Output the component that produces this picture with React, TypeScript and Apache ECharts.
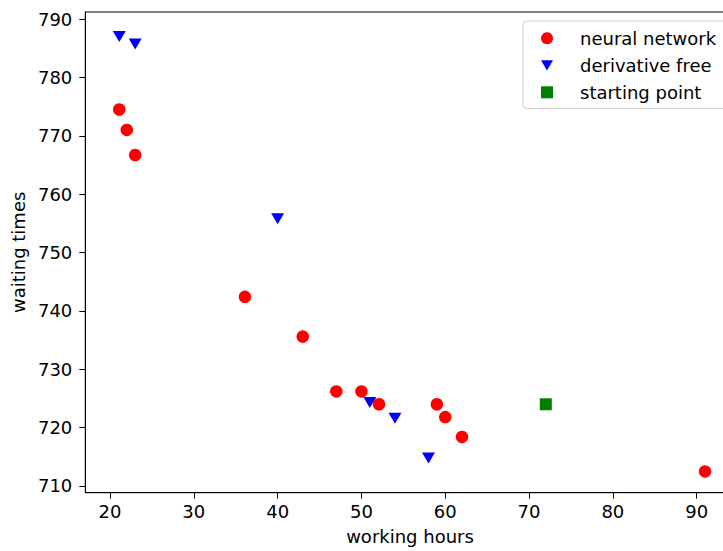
import React, { useEffect, useRef } from "react";
import * as echarts from "echarts";

const xTicks = [20, 30, 40, 50, 60, 70, 80, 90];
const yTicks = [710, 720, 730, 740, 750, 760, 770, 780, 790];

const neuralX = [21.1, 22, 23, 36.1, 43, 47, 50, 52.1, 59, 60, 62, 91];
const neuralY = [774.5, 771, 766.7, 742.4, 735.6, 726.2, 726.2, 724, 724, 721.8, 718.4, 712.5];

const derivX = [21.1, 23, 40, 51, 54, 58];
const derivY = [787, 785.7, 755.8, 724.3, 721.6, 714.8];

const startX = [72];
const startY = [724];

const seriesNames = ["neural network", "derivative free", "starting point"];

const FONT = "DejaVu Sans";
const FS = 18;
const TRI = "path://M0,0L20,0L10,17Z";

const zip = (xs: number[], ys: number[]) => xs.map((x, i) => [x, ys[i]]);

export default function App() {
  const ref = useRef<HTMLDivElement>(null);
  useEffect(() => {
    if (!ref.current) return;
    const chart = echarts.init(ref.current, undefined, { renderer: "svg" });
    const axisCommon = {
      type: "value" as const,
      nameLocation: "middle" as const,
      nameTextStyle: { fontFamily: FONT, fontSize: FS, color: "#000" },
      axisLine: { show: true, lineStyle: { color: "#000", width: 1 } },
      splitLine: { show: false },
    };
    chart.setOption({
      animation: false,
      backgroundColor: "#fff",
      grid: {
        left: 85.3,
        top: 12,
        width: 649.4,
        height: 480.7,
        show: true,
        borderColor: "#000",
        borderWidth: 1,
        backgroundColor: "transparent",
      },
      xAxis: {
        ...axisCommon,
        name: "working hours",
        nameGap: 35,
        min: 17.05,
        max: 94.54,
        axisTick: { show: true, length: 6, lineStyle: { color: "#000" }, customValues: xTicks },
        axisLabel: {
          fontFamily: FONT,
          fontSize: FS,
          color: "#000",
          margin: 10,
          customValues: xTicks,
        },
      },
      yAxis: {
        ...axisCommon,
        name: "waiting times",
        nameGap: 51,
        nameRotate: 90,
        min: 708.85,
        max: 791.2,
        axisTick: { show: true, length: 6, lineStyle: { color: "#000" }, customValues: yTicks },
        axisLabel: {
          fontFamily: FONT,
          fontSize: FS,
          color: "#000",
          margin: 13,
          customValues: yTicks,
        },
      },
      legend: {
        orient: "vertical",
        left: 523,
        top: 21,
        padding: [7.3, 40, 6.3, 18],
        itemGap: 7,
        itemWidth: 12,
        itemHeight: 12,
        backgroundColor: "rgba(255,255,255,0.8)",
        borderColor: "#cccccc",
        borderWidth: 1,
        borderRadius: 4,
        data: [
          { name: seriesNames[0], icon: "circle" },
          { name: seriesNames[1], icon: TRI },
          { name: seriesNames[2], icon: "rect" },
        ],
        textStyle: {
          fontFamily: FONT,
          fontSize: FS,
          lineHeight: 20,
          color: "#000",
          padding: [0, 0, 0, 22],
        },
      },
      series: [
        {
          name: seriesNames[0],
          type: "scatter",
          symbol: "circle",
          symbolSize: 12.5,
          itemStyle: { color: "#ff0000", opacity: 1 },
          data: zip(neuralX, neuralY),
        },
        {
          name: seriesNames[1],
          type: "scatter",
          symbol: TRI,
          symbolSize: [13, 11],
          itemStyle: { color: "#0000ff", opacity: 1 },
          data: zip(derivX, derivY),
        },
        {
          name: seriesNames[2],
          type: "scatter",
          symbol: "rect",
          symbolSize: 12,
          itemStyle: { color: "#008000", opacity: 1 },
          data: zip(startX, startY),
        },
      ],
    });
    return () => chart.dispose();
  }, []);
  return (
    <div
      style={{
        position: "fixed",
        left: 0,
        top: 0,
        width: 723,
        height: 551,
        overflow: "hidden",
      }}
    >
      <div ref={ref} style={{ width: 780, height: 551 }} />
    </div>
  );
}
